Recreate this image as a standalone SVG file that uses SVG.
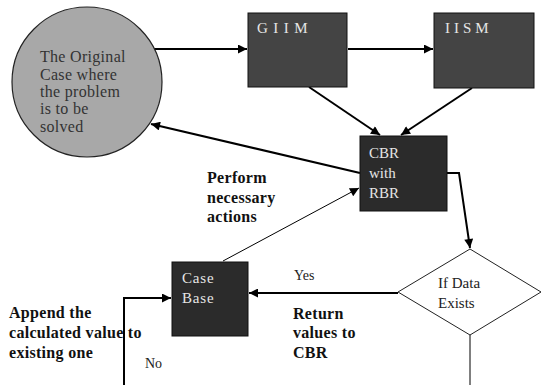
<svg xmlns="http://www.w3.org/2000/svg" width="541" height="385" viewBox="0 0 541 385">
<style>
  .lbl{font-family:"Liberation Serif",serif;}
  .box{stroke:#111;stroke-width:1;}
  .inbox{font-family:"Liberation Serif",serif;font-size:15px;fill:#e6e6e6;}
  .bold{font-family:"Liberation Serif",serif;font-size:16px;font-weight:bold;fill:#111;letter-spacing:0.3px;}
  .conn{fill:none;stroke:#000;stroke-width:2;}
  .thin{fill:none;stroke:#000;stroke-width:1;}
</style>
<defs>
  <marker id="ah" viewBox="0 0 10 10" refX="10" refY="5" markerWidth="5" markerHeight="4.5" orient="auto" markerUnits="strokeWidth">
    <path d="M0,0 L10,5 L0,10 z" fill="#000"/>
  </marker>
  <marker id="ahThin" viewBox="0 0 10 10" refX="10" refY="5" markerWidth="11" markerHeight="9" orient="auto" markerUnits="strokeWidth">
    <path d="M0,0 L10,5 L0,10 z" fill="#000"/>
  </marker>
</defs>

<g id="connectors">
  <line class="conn" x1="150" y1="49" x2="247" y2="49" marker-end="url(#ah)"/>
  <line class="conn" x1="348" y1="49" x2="433" y2="49" marker-end="url(#ah)"/>
  <line class="conn" x1="309" y1="87" x2="380" y2="135" marker-end="url(#ah)"/>
  <line class="conn" x1="472" y1="88" x2="401" y2="135" marker-end="url(#ah)"/>
  <line class="conn" x1="360" y1="173" x2="151" y2="124" marker-end="url(#ah)"/>
  <polyline class="conn" points="447,173 459,173 470,248" marker-end="url(#ah)"/>
  <line class="thin" x1="223" y1="261" x2="359" y2="188" marker-end="url(#ahThin)"/>
  <line class="conn" x1="398" y1="293" x2="249" y2="293" marker-end="url(#ah)"/>
  <polyline class="conn" points="124,385 124,298 171,298" marker-end="url(#ah)"/>
  <line class="thin" x1="470" y1="335" x2="470" y2="385"/>
</g>

<g id="original-case">
  <circle cx="87" cy="82" r="75" fill="#a8a8a8" stroke="#222" stroke-width="1.2"/>
  <text class="lbl" font-size="16" fill="#333" letter-spacing="0.3">
    <tspan x="40" y="62">The Original</tspan>
    <tspan x="40" y="80">Case where</tspan>
    <tspan x="40" y="97">the problem</tspan>
    <tspan x="40" y="114">is to be</tspan>
    <tspan x="40" y="132">solved</tspan>
  </text>
</g>

<g id="giim">
  <rect class="box" x="248" y="13" width="99" height="74" fill="#444"/>
  <text class="inbox" x="257" y="33" letter-spacing="5.5">GIIM</text>
</g>

<g id="iism">
  <rect class="box" x="434" y="13" width="100" height="75" fill="#444"/>
  <text class="inbox" x="445" y="33" letter-spacing="4">IISM</text>
</g>

<g id="cbr">
  <rect class="box" x="360" y="136" width="87" height="75" fill="#2b2b2b"/>
  <text class="inbox" font-size="16">
    <tspan x="369" y="158">CBR</tspan>
    <tspan x="369" y="178">with</tspan>
    <tspan x="369" y="198">RBR</tspan>
  </text>
</g>

<g id="decision">
  <polygon points="470,249 541,292 470,335 398,292" fill="#fff" stroke="#222" stroke-width="1"/>
  <text class="lbl" font-size="15" fill="#222">
    <tspan x="438" y="288">If Data</tspan>
    <tspan x="438" y="308">Exists</tspan>
  </text>
</g>

<g id="case-base">
  <rect class="box" x="172" y="262" width="76" height="74" fill="#2b2b2b"/>
  <text class="inbox" letter-spacing="0.8">
    <tspan x="182" y="283">Case</tspan>
    <tspan x="182" y="303">Base</tspan>
  </text>
</g>

<g id="labels">
  <text class="bold">
    <tspan x="207" y="183">Perform</tspan>
    <tspan x="207" y="203">necessary</tspan>
    <tspan x="207" y="222">actions</tspan>
  </text>
  <text class="bold">
    <tspan x="9" y="318">Append the</tspan>
    <tspan x="9" y="338">calculated value to</tspan>
    <tspan x="9" y="358">existing one</tspan>
  </text>
  <text class="bold">
    <tspan x="293" y="319">Return</tspan>
    <tspan x="293" y="338">values to</tspan>
    <tspan x="293" y="358">CBR</tspan>
  </text>
  <text class="lbl" font-size="14" fill="#222" x="294" y="280">Yes</text>
  <text class="lbl" font-size="14" fill="#222" x="145" y="368">No</text>
</g>
</svg>
